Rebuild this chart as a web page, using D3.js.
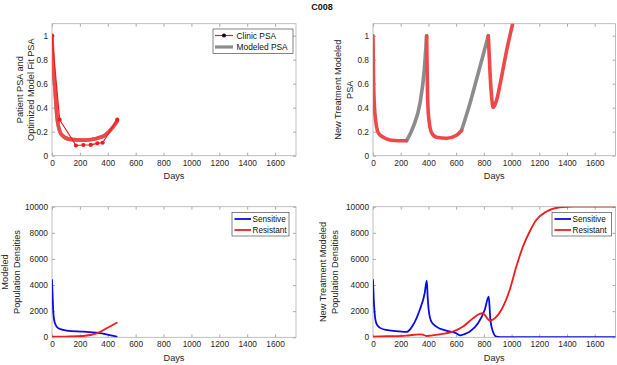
<!DOCTYPE html>
<html><head><meta charset="utf-8">
<script src="https://cdn.jsdelivr.net/npm/d3@7"></script>
<style>
body{margin:0;background:#fff;}
svg{display:block;font-family:"Liberation Sans",Arial,Helvetica,sans-serif;}
</style></head><body>
<svg id="chart" width="617" height="365"></svg>
<script>
// ---------- DATA ----------
const xTicks = [0,200,400,600,800,1000,1200,1400,1600];
const psaTicks = [0,0.2,0.4,0.6,0.8,1];
const popTicks = [0,2000,4000,6000,8000,10000];

// Panel A: clinic PSA and model fit
const clinicDays = [0,55,172,225,278,325,363,468];
const clinicPSA  = [1.0,0.30,0.085,0.089,0.09,0.103,0.108,0.30];
const fitDays = [0,4,10,21,38,69,129,225,320,380,428,468];
const fitPSA  = [1.0,0.85,0.72,0.56,0.30,0.175,0.136,0.13,0.144,0.17,0.225,0.29];

// Panel B: new treatment modeled PSA (on = red, off = gray)
const onDays1 = [0,4,14,38,74,123,180,243];
const onPSA1  = [1.0,0.62,0.35,0.19,0.153,0.131,0.125,0.125];
const offDays1 = [243,291,339,370,387];
const offPSA1  = [0.125,0.242,0.437,0.714,1.0];
const onDays2 = [387,392,399,423,459,531,603,639];
const onPSA2  = [1.0,0.62,0.353,0.19,0.153,0.145,0.17,0.21];
const offDays2 = [639,700,772,832];
const offPSA2  = [0.21,0.437,0.742,1.0];
const onDays3 = [832,845,856,868,892,928,965,1008,1030];
const onPSA3  = [1.0,0.68,0.49,0.403,0.464,0.66,0.88,1.10,1.2];

// Panel C: modeled population densities
const sensDays = [0,5,10,21,45,105,225,320,392,464];
const sensPop  = [4390,3000,1836,1070,690,510,430,350,230,50];
const resDays  = [0,129,225,320,392,464];
const resPop   = [50,60,100,300,690,1120];

// Panel D: new treatment population densities
const sens2Days = [0,5,12,24,48,96,170,243,289,337,373,388,395,402,421,457,529,601,630,660,697,758,806,835,842,847,866,890,920,1000,1750];
const sens2Pop  = [4390,3000,1840,1070,740,560,480,410,940,2090,3370,4340,3000,2090,1200,820,510,310,150,250,430,1070,2090,3110,2200,1330,430,50,10,5,5];
const res2Days = [0,100,240,337,360,385,430,481,577,650,721,770,790,806,835,842,860,878,926,986,1034,1082,1130,1178,1250,1347,1450,1750];
const res2Pop  = [50,80,130,230,200,100,150,230,430,820,1450,1790,1840,1710,1330,1270,1330,1450,2090,3620,5400,6940,8080,8980,9620,9950,10000,10000];

// ---------- DRAW ----------
const svg = d3.select("#chart");
const RED = "#ee1c1c", THICKRED = "#f04848", GRAY = "#8c8c8c", BLUE = "#0a0ae6";
let clipId = 0;

function panel(cfg){
  const x = d3.scaleLinear().domain([0,1750]).range([cfg.x0,cfg.x1]);
  const y = d3.scaleLinear().domain(cfg.ydom).range([cfg.y0,cfg.y1]);
  const g = svg.append("g");
  const id = "clip"+(clipId++);
  svg.append("clipPath").attr("id",id).append("rect")
    .attr("x",cfg.x0).attr("y",cfg.y1).attr("width",cfg.x1-cfg.x0).attr("height",cfg.y0-cfg.y1);
  // axes
  const ax = g.append("g").attr("transform",`translate(0,${cfg.y0})`)
    .call(d3.axisBottom(x).tickValues(xTicks).tickSizeInner(-3).tickSizeOuter(0).tickPadding(4).tickFormat(d3.format("d")));
  g.append("g").attr("transform",`translate(0,${cfg.y1})`)
    .call(d3.axisTop(x).tickValues(xTicks).tickSizeInner(-3).tickSizeOuter(0).tickFormat(""));
  const ay = g.append("g").attr("transform",`translate(${cfg.x0},0)`)
    .call(d3.axisLeft(y).tickValues(cfg.yticks).tickSizeInner(-3).tickSizeOuter(0).tickPadding(4).tickFormat(cfg.yfmt));
  g.append("g").attr("transform",`translate(${cfg.x1},0)`)
    .call(d3.axisRight(y).tickValues(cfg.yticks).tickSizeInner(-3).tickSizeOuter(0).tickFormat(""));
  g.selectAll(".domain").remove();
  g.selectAll(".tick line").attr("stroke","#aaa");
  g.selectAll(".tick text").attr("fill","#262626").style("font-size","8.3px").style("font-family","Liberation Sans,Arial,sans-serif");
  g.append("rect").attr("x",cfg.x0).attr("y",cfg.y1).attr("width",cfg.x1-cfg.x0).attr("height",cfg.y0-cfg.y1)
    .attr("fill","none").attr("stroke","#b0b0b0").attr("stroke-width",0.8);
  // x label
  g.append("text").attr("x",(cfg.x0+cfg.x1)/2).attr("y",cfg.y0+23.5).attr("text-anchor","middle")
    .attr("fill","#262626").style("font-size","9.2px").text("Days");
  // y label
  cfg.ylabel.forEach((t,i)=>{
    g.append("text").attr("transform",`translate(${cfg.ylx[i]},${(cfg.y0+cfg.y1)/2}) rotate(-90)`)
      .attr("text-anchor","middle").attr("dy","0.35em").attr("fill","#262626").style("font-size","9.2px").text(t);
  });
  const plot = g.append("g").attr("clip-path",`url(#${id})`);
  function line(xs,ys,color,w,curve){
    const pts = xs.map((d,i)=>[d,ys[i]]);
    plot.append("path").datum(pts)
      .attr("d",d3.line().x(d=>x(d[0])).y(d=>y(d[1])).curve(curve||d3.curveMonotoneX))
      .attr("fill","none").attr("stroke",color).attr("stroke-width",w)
      .attr("stroke-linejoin","round").attr("stroke-linecap","round");
    return pts;
  }
  return {x,y,g,plot,line};
}

// Title
svg.append("text").attr("x",322).attr("y",9.5).attr("text-anchor","middle")
  .style("font-size","9px").style("font-weight","bold").attr("fill","#111").text("C008");

const psaFmt = d=> d===0?"0":(d===1?"1":d3.format(".1f")(d));

// Panel A
const A = panel({x0:52,x1:296,y0:155.7,y1:23.7,ydom:[0,1.1],yticks:psaTicks,yfmt:psaFmt,
  ylabel:["Patient PSA and","Optimized Model Fit PSA"],ylx:[19.5,31]});
A.line(fitDays,fitPSA,GRAY,3.6);
A.line(fitDays,fitPSA,THICKRED,3.6);
const cp = A.line(clinicDays,clinicPSA,RED,1.2,d3.curveLinear);
A.plot.selectAll("circle.cl").data(cp).join("circle").attr("class","cl")
  .attr("cx",d=>A.x(d[0])).attr("cy",d=>A.y(d[1])).attr("r",2.1).attr("fill",RED);

// Panel A legend
(function(){
  const lg = svg.append("g");
  lg.append("rect").attr("x",213).attr("y",29).attr("width",80).attr("height",24.5)
    .attr("fill","#fff").attr("stroke","#333").attr("stroke-width",0.6);
  lg.append("line").attr("x1",215).attr("x2",233).attr("y1",35.5).attr("y2",35.5).attr("stroke",RED).attr("stroke-width",1.2);
  lg.append("circle").attr("cx",224).attr("cy",35.5).attr("r",2.1).attr("fill","#111");
  lg.append("line").attr("x1",215).attr("x2",233).attr("y1",47).attr("y2",47).attr("stroke",GRAY).attr("stroke-width",3.2);
  lg.append("text").attr("x",236.5).attr("y",38.5).style("font-size","8.4px").attr("fill","#111").text("Clinic PSA");
  lg.append("text").attr("x",236.5).attr("y",50).style("font-size","8.4px").attr("fill","#111").text("Modeled PSA");
})();

// Panel B
const B = panel({x0:373,x1:615.5,y0:155.7,y1:23.7,ydom:[0,1.1],yticks:psaTicks,yfmt:psaFmt,
  ylabel:["New Treatment Modeled","PSA"],ylx:[337.5,349.5]});
B.line(offDays1,offPSA1,GRAY,3.6);
B.line(offDays2,offPSA2,GRAY,3.6);
B.line(onDays1,onPSA1,THICKRED,3.6);
B.line(onDays2,onPSA2,THICKRED,3.6);
B.line(onDays3,onPSA3,THICKRED,3.6);

// Panel C
const popFmt = d3.format("d");
const C = panel({x0:52,x1:296,y0:337.3,y1:206.7,ydom:[0,10000],yticks:popTicks,yfmt:popFmt,
  ylabel:["Modeled","Population Densities"],ylx:[5,16.5]});
C.line(sensDays,sensPop,BLUE,1.8);
C.line(resDays,resPop,RED,1.8);

// Panel D
const D = panel({x0:373,x1:615.5,y0:337.3,y1:206.7,ydom:[0,10000],yticks:popTicks,yfmt:popFmt,
  ylabel:["New Treatment Modeled","Population Densities"],ylx:[323,335]});
D.line(sens2Days,sens2Pop,BLUE,1.8);
D.line(res2Days,res2Pop,RED,1.8);

function popLegend(x0,w){
  const lg = svg.append("g");
  lg.append("rect").attr("x",x0).attr("y",212.5).attr("width",w).attr("height",23.5)
    .attr("fill","#fff").attr("stroke","#333").attr("stroke-width",0.6);
  lg.append("line").attr("x1",x0+2.5).attr("x2",x0+19).attr("y1",219).attr("y2",219).attr("stroke",BLUE).attr("stroke-width",1.8);
  lg.append("line").attr("x1",x0+2.5).attr("x2",x0+19).attr("y1",230).attr("y2",230).attr("stroke",RED).attr("stroke-width",1.8);
  lg.append("text").attr("x",x0+20.5).attr("y",222).style("font-size","8.2px").attr("fill","#111").text("Sensitive");
  lg.append("text").attr("x",x0+20.5).attr("y",233).style("font-size","8.2px").attr("fill","#111").text("Resistant");
}
popLegend(232,57);
popLegend(552,59.5);
</script>
</body></html>
